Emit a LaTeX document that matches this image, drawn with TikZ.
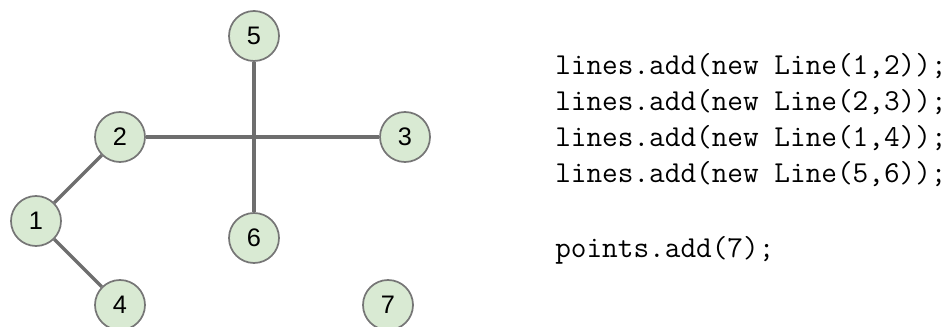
\documentclass[tikz,border=0pt]{standalone}
\usepackage{fontspec}
\setmainfont{Liberation Sans}
\usepackage{tikz}
\usetikzlibrary{positioning}
\definecolor{ptfill}{HTML}{D9EAD3}
\definecolor{ptrim}{HTML}{767676}
\definecolor{segdk}{HTML}{6E6E6E}
\tikzset{
  ptnode/.style   = {circle, fill=ptfill, draw=ptrim, line width=1.3pt,
                     minimum size=37.5pt, inner sep=0pt,
                     font=\fontsize{19}{22}\selectfont},
  segline/.style  = {draw=segdk, line width=2.4pt},
  codeline/.style = {anchor=base west, inner sep=0pt,
                     font=\ttfamily\fontsize{22.8}{28}\selectfont},
}

\begin{document}
\begin{tikzpicture}[x=0.75pt, y=-0.75pt]
  \useasboundingbox (0,0) rectangle (952,327);
  \node[ptnode] (p1) at (36,221)  {1};
  \node[ptnode] (p2) at (120,137) {2};
  \node[ptnode] (p3) at (405,137) {3};
  \node[ptnode] (p4) at (120,305) {4};
  \node[ptnode] (p5) at (254,36)  {5};
  \node[ptnode] (p6) at (254,238) {6};
  \node[ptnode] (p7) at (388,305) {7};
  \draw[segline] (p1) -- (p2);
  \draw[segline] (p2) -- (p3);
  \draw[segline] (p1) -- (p4);
  \draw[segline] (p5) -- (p6);
  \node[codeline] (c1) at (555,75)  {lines.add(new Line(1,2));};
  \node[codeline] (c2) at (555,111) {lines.add(new Line(2,3));};
  \node[codeline] (c3) at (555,147) {lines.add(new Line(1,4));};
  \node[codeline] (c4) at (555,183) {lines.add(new Line(5,6));};
  \node[codeline] (c5) at (555,258) {points.add(7);};
\end{tikzpicture}
\end{document}
